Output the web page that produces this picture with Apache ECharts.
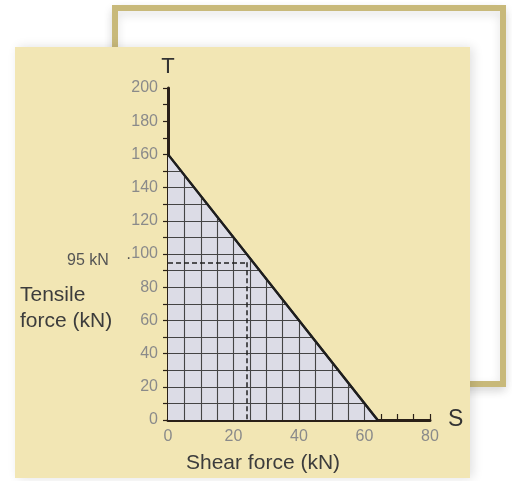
<!DOCTYPE html>
<html>
<head>
<meta charset="utf-8">
<script src="https://cdn.jsdelivr.net/npm/echarts@6/dist/echarts.min.js"></script>
<style>html,body{margin:0;padding:0;background:#fff}#c{width:512px;height:481px}</style>
</head>
<body>
<div id="c"></div>
<script>
// Data
const boundaryS = [0, 64];      // shear force (kN) at the triangle's vertices
const boundaryT = [160, 0];     // tensile force (kN)
const gridS = [5, 10, 15, 20, 25, 30, 35, 40, 45, 50, 55, 60];
const gridT = [10, 20, 30, 40, 50, 60, 70, 80, 90, 100, 110, 120, 130, 140, 150];
const readS = 24;
const readT = 95;
const yTicks = [0, 20, 40, 60, 80, 100, 120, 140, 160, 180, 200];
const xTicks = [0, 20, 40, 60, 80];

// boundary line T(S)
function tAt(s) {
  return boundaryT[0] + (boundaryT[1] - boundaryT[0]) * (s - boundaryS[0]) / (boundaryS[1] - boundaryS[0]);
}
function sAt(t) {
  return boundaryS[0] + (boundaryS[1] - boundaryS[0]) * (t - boundaryT[0]) / (boundaryT[1] - boundaryT[0]);
}
const gridLines = [];
gridS.forEach(s => gridLines.push({coords: [[s, 0], [s, tAt(s)]]}));
gridT.forEach(t => gridLines.push({coords: [[0, t], [sAt(t), t]]}));

const chart = echarts.init(document.getElementById('c'));
const font = 'Liberation Sans, Arial, sans-serif';
chart.setOption({
  animation: false,
  backgroundColor: '#ffffff',
  graphic: [
    {type: 'rect', z: -10, shape: {x: 115, y: 8, width: 388, height: 376},
     style: {fill: '#ffffff', stroke: '#c8b97a', lineWidth: 6, shadowBlur: 10, shadowColor: 'rgba(0,0,0,0.12)', shadowOffsetY: 4}},
    {type: 'rect', z: -9, shape: {x: 15, y: 47, width: 455, height: 431},
     style: {fill: '#f2e6b4', shadowBlur: 10, shadowColor: 'rgba(0,0,0,0.12)', shadowOffsetX: 3}},
    {type: 'text', z: 10, left: 186, top: 453,
     style: {text: 'Shear force (kN)', font: '21px ' + font, fill: '#3c3c3c'}},
    {type: 'text', z: 10, left: 20, top: 282,
     style: {text: 'Tensile\nforce (kN)', font: '21px ' + font, fill: '#3c3c3c', lineHeight: 26}},
    {type: 'text', z: 10, left: 67, top: 253,
     style: {text: '95 kN', font: '16px ' + font, fill: '#555555'}},
    {type: 'text', z: 10, left: 126, top: 251,
     style: {text: '·', font: '16px ' + font, fill: '#555555'}}
  ],
  grid: {left: 168, right: 82, top: 88, bottom: 61},
  xAxis: {
    type: 'value', min: 0, max: 80, interval: 20,
    name: 'S', nameLocation: 'end', nameGap: 18,
    nameTextStyle: {fontSize: 23, color: '#333', fontFamily: font, verticalAlign: 'middle'},
    axisLine: {lineStyle: {color: '#2a2018', width: 3}},
    axisTick: {show: true, inside: true, length: 6, lineStyle: {color: '#2a2018', width: 1.2}},
    minorTick: {show: true, splitNumber: 4, length: 6, lineStyle: {color: '#2a2018', width: 1.2}},
    axisLabel: {color: '#8a8a8a', fontSize: 16, fontFamily: font, margin: 9},
    splitLine: {show: false}
  },
  yAxis: {
    type: 'value', min: 0, max: 200, interval: 20,
    name: 'T', nameLocation: 'end', nameGap: 10,
    nameTextStyle: {fontSize: 22, color: '#333', fontFamily: font, align: 'center'},
    axisLine: {lineStyle: {color: '#2a2018', width: 3}},
    axisTick: {show: true, length: 5, lineStyle: {color: '#2a2018', width: 1.2}},
    minorTick: {show: true, splitNumber: 2, length: 5, lineStyle: {color: '#2a2018', width: 1.2}},
    axisLabel: {color: '#8a8a8a', fontSize: 16, fontFamily: font, margin: 10},
    splitLine: {show: false}
  },
  series: [
    {
      type: 'line', z: 2,
      data: boundaryS.map((s, i) => [s, boundaryT[i]]),
      symbol: 'none',
      lineStyle: {color: '#1e1e1e', width: 2.2},
      areaStyle: {color: '#dcdce6', opacity: 1}
    },
    {
      type: 'lines', coordinateSystem: 'cartesian2d', z: 3,
      data: gridLines,
      lineStyle: {color: '#444', width: 1.1, opacity: 1}
    },
    {
      type: 'lines', coordinateSystem: 'cartesian2d', z: 4,
      data: [
        {coords: [[0, readT], [readS, readT]]},
        {coords: [[readS, readT], [readS, 0]]}
      ],
      lineStyle: {color: '#222', width: 1.5, type: [5, 3], opacity: 1}
    },
    {
      type: 'line', z: 5,
      data: boundaryS.map((s, i) => [s, boundaryT[i]]),
      symbol: 'none',
      lineStyle: {color: '#1e1e1e', width: 2.2}
    }
  ]
});
</script>
</body>
</html>
